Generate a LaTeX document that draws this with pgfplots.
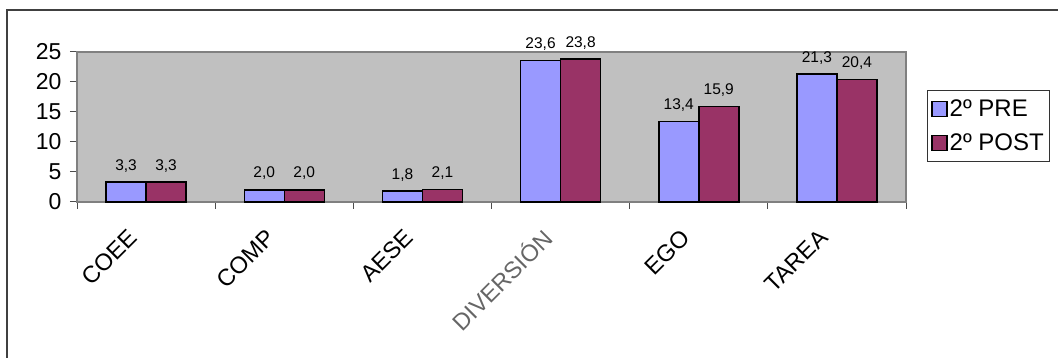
\documentclass[border=0pt]{standalone}
\usepackage{fontspec}
\setmainfont{Liberation Sans}
\usepackage{pgfplots}
\pgfplotsset{compat=1.18}
\definecolor{pre}{HTML}{9999FF}
\definecolor{post}{HTML}{993366}
\definecolor{plotbg}{HTML}{C0C0C0}
\pgfplotsset{sq legend/.style={legend image code/.code={\draw[##1, line width=1.2pt] (0pt,-7.5pt) rectangle (15pt,7.5pt);}}}
\begin{document}
\begin{tikzpicture}[x=1pt,y=1pt]
\path[use as bounding box] (0,0) rectangle (1058,358);
\draw[line width=2pt, color=black!75] (7,-5) -- (7,348) -- (1065,348);
\begin{axis}[
  at={(77pt,156pt)}, anchor=south west,
  scale only axis, width=829pt, height=150pt,
  xmin=-0.5, xmax=5.5, ymin=0, ymax=25,
  ybar=0pt, bar width=40pt,
  clip=false,
  axis background/.style={fill=plotbg},
  axis line style={draw=black!50, line width=1.5pt},
  ytick={0,5,...,25},
  xtick={0,...,5},
  tick pos=left,
  xticklabels={COEE,COMP,AESE,{\color{black!60}DIVERSIÓN},EGO,TAREA},
  minor xtick={-0.5,0.5,...,5.5},
  major x tick style={draw=none},
  tick align=outside,
  major tick length=7pt, minor tick length=7pt,
  every tick/.style={black!70, line width=1pt},
  /pgf/number format/assume math mode=true,
  yticklabel style={font=\fontsize{23}{27}\selectfont, xshift=-5pt},
  xticklabel style={font=\fontsize{23.5}{27}\selectfont, xshift=-11pt, yshift=-22pt, rotate=45, anchor=east},
  nodes near coords={\pgfmathprintnumber[fixed,fixed zerofill,precision=1,use comma,assume math mode=true]{\pgfplotspointmeta}},
  every node near coord/.append style={font=\fontsize{15.5}{18}\selectfont, anchor=base, yshift=12pt},
  legend style={at={(1.0253,0.7467)}, anchor=north west, draw=black!80, line width=1pt,
    font=\fontsize{24}{28}\selectfont, inner xsep=4pt, inner ysep=7pt, row sep=12pt},
  legend cell align=left,
]
\addplot[fill=pre, draw=black, line width=1.5pt, sq legend]
  coordinates {(0,3.3) (1,2.0) (2,1.8) (3,23.6) (4,13.4) (5,21.3)};
\addplot[fill=post, draw=black, line width=1.5pt, sq legend]
  coordinates {(0,3.3) (1,2.0) (2,2.1) (3,23.8) (4,15.9) (5,20.4)};
\legend{2º PRE, 2º POST}
\end{axis}
\end{tikzpicture}
\end{document}
